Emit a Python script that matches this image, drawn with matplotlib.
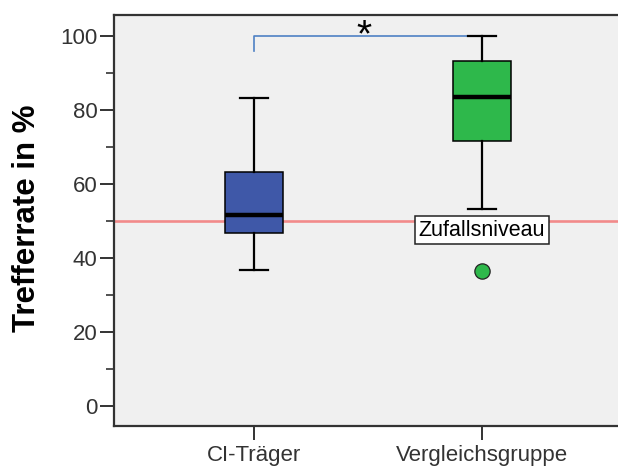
import matplotlib.pyplot as plt
from matplotlib.ticker import MultipleLocator

# values (percent correct)
groups = ["CI-Träger", "Vergleichsgruppe"]
whisker_low = [36.7, 53.2]
q1 = [46.8, 71.6]
median = [51.6, 83.4]
q3 = [63.3, 93.3]
whisker_high = [83.3, 100.0]
outliers = [[], [36.5]]
chance_level = 50
bracket_top = 100.0
bracket_drop = 95.8

box_colors = ["#3F58A8", "#2EB84B"]

plt.rcParams["font.family"] = ["Liberation Sans", "DejaVu Sans"]

fig = plt.figure(figsize=(6.18, 4.68), dpi=100)
ax = fig.add_axes([0.1845, 0.0897, 0.8155, 0.8772])
ax.set_facecolor("#F0F0F0")

positions = list(range(1, len(groups) + 1))
stats = []
for i, name in enumerate(groups):
    stats.append({
        "label": name,
        "whislo": whisker_low[i],
        "q1": q1[i],
        "med": median[i],
        "q3": q3[i],
        "whishi": whisker_high[i],
        "fliers": outliers[i],
    })

ax.axhline(chance_level, color="#F28A8A", lw=1.9, zorder=1)

bp = ax.bxp(
    stats,
    positions=positions,
    widths=0.257,
    capwidths=0.12,
    patch_artist=True,
    boxprops=dict(edgecolor="black", linewidth=1.1),
    medianprops=dict(color="black", linewidth=3.2),
    whiskerprops=dict(color="black", linewidth=1.6),
    capprops=dict(color="black", linewidth=1.6),
    flierprops=dict(marker="o", markersize=11, markeredgecolor="#222222",
                    markeredgewidth=0.9),
    zorder=3,
)
for patch, col in zip(bp["boxes"], box_colors):
    patch.set_facecolor(col)
for fl, col in zip(bp["fliers"], box_colors):
    fl.set_markerfacecolor(col)

# significance bracket
ax.plot([positions[0], positions[0], positions[1]],
        [bracket_drop, bracket_top, bracket_top],
        color="#4F81C4", lw=1.2, zorder=2)
ax.text(1.48, 97.2, "*", ha="center", va="baseline", fontsize=28, color="black")

ax.text(positions[1], 47.5, "Zufallsniveau", ha="center", va="center",
        fontsize=15.5, color="black", zorder=5,
        bbox=dict(boxstyle="square,pad=0.18", facecolor="white",
                  edgecolor="#222222", linewidth=1.1))

ax.set_xlim(0.386, 2.596)
ax.set_ylim(-5.5, 105.5)
ax.yaxis.set_major_locator(MultipleLocator(20))
ax.yaxis.set_minor_locator(MultipleLocator(10))
ax.set_xticks(positions)
ax.set_xticklabels(groups)

for side in ("left", "bottom", "top"):
    ax.spines[side].set_color("#333333")
    ax.spines[side].set_linewidth(1.6)
ax.spines["right"].set_visible(False)

ax.tick_params(axis="y", which="major", length=10, width=1.4, color="#333333",
               labelsize=16, labelcolor="#333333", pad=2)
ax.tick_params(axis="y", which="minor", length=6, width=1.2, color="#333333")
ax.tick_params(axis="x", length=10, width=1.4, color="#333333",
               labelsize=16, labelcolor="#333333", pad=4)

ax.set_ylabel("Trefferrate in %", fontsize=22.5, fontweight="bold")
ax.yaxis.label.set_va("center")
ax.yaxis.set_label_coords(-0.1726, 0.507)

fig.savefig("out.png", dpi=100)
